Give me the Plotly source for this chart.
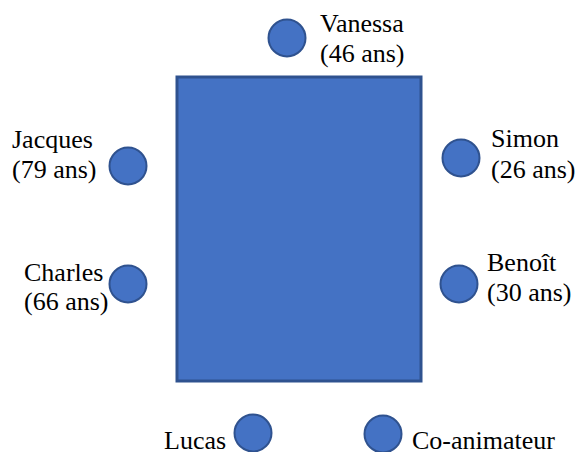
import plotly.graph_objects as go

# Seating data
names = ["Vanessa", "Jacques", "Simon", "Charles", "Benoît", "Lucas", "Co-animateur"]
ages = [46, 79, 26, 66, 30, None, None]
seat_x = [287, 128, 461, 128, 459, 253, 383]
seat_y = [38, 166, 158, 284, 284, 433, 434]
label_x = [318, 10, 489, 22, 485, 228, 410]
name_base = [33, 149, 148, 282, 272, 450, 450]
age_base = [63, 179, 179, 311, 302, None, None]
label_side = ["left", "left", "left", "left", "left", "right", "left"]

table_x = [177, 421]
table_y = [77, 381]

FILL = "#4472C4"
EDGE = "#2F528F"
FONT = "Liberation Serif"
FS = 26

W, H = 579, 452

fig = go.Figure()

fig.add_shape(type="rect", x0=table_x[0], x1=table_x[1], y0=table_y[0], y1=table_y[1],
              fillcolor=FILL, line=dict(color=EDGE, width=3), layer="below")

fig.add_trace(go.Scatter(
    x=seat_x, y=seat_y, mode="markers",
    marker=dict(size=37, color=FILL, line=dict(color=EDGE, width=2)),
    hoverinfo="skip", showlegend=False,
))


def label(x, base, text, side):
    fig.add_annotation(x=x, y=base - 0.35 * FS, text=text, showarrow=False,
                       xanchor=side, yanchor="middle", align="left",
                       font=dict(family=FONT, size=FS, color="black"))


for n, a, lx, b1, b2, side in zip(names, ages, label_x, name_base, age_base, label_side):
    label(lx, b1, n, side)
    if a is not None:
        label(lx, b2, f"({a} ans)", side)

fig.update_layout(
    width=W, height=H,
    margin=dict(l=0, r=0, t=0, b=0),
    paper_bgcolor="white", plot_bgcolor="white",
    xaxis=dict(range=[0, W], visible=False, fixedrange=True),
    yaxis=dict(range=[H, 0], visible=False, fixedrange=True),
)

fig.write_html(
    "out.html",
    config={"displayModeBar": False},
    post_script="document.body.style.margin='0';document.body.style.overflow='hidden';",
)
